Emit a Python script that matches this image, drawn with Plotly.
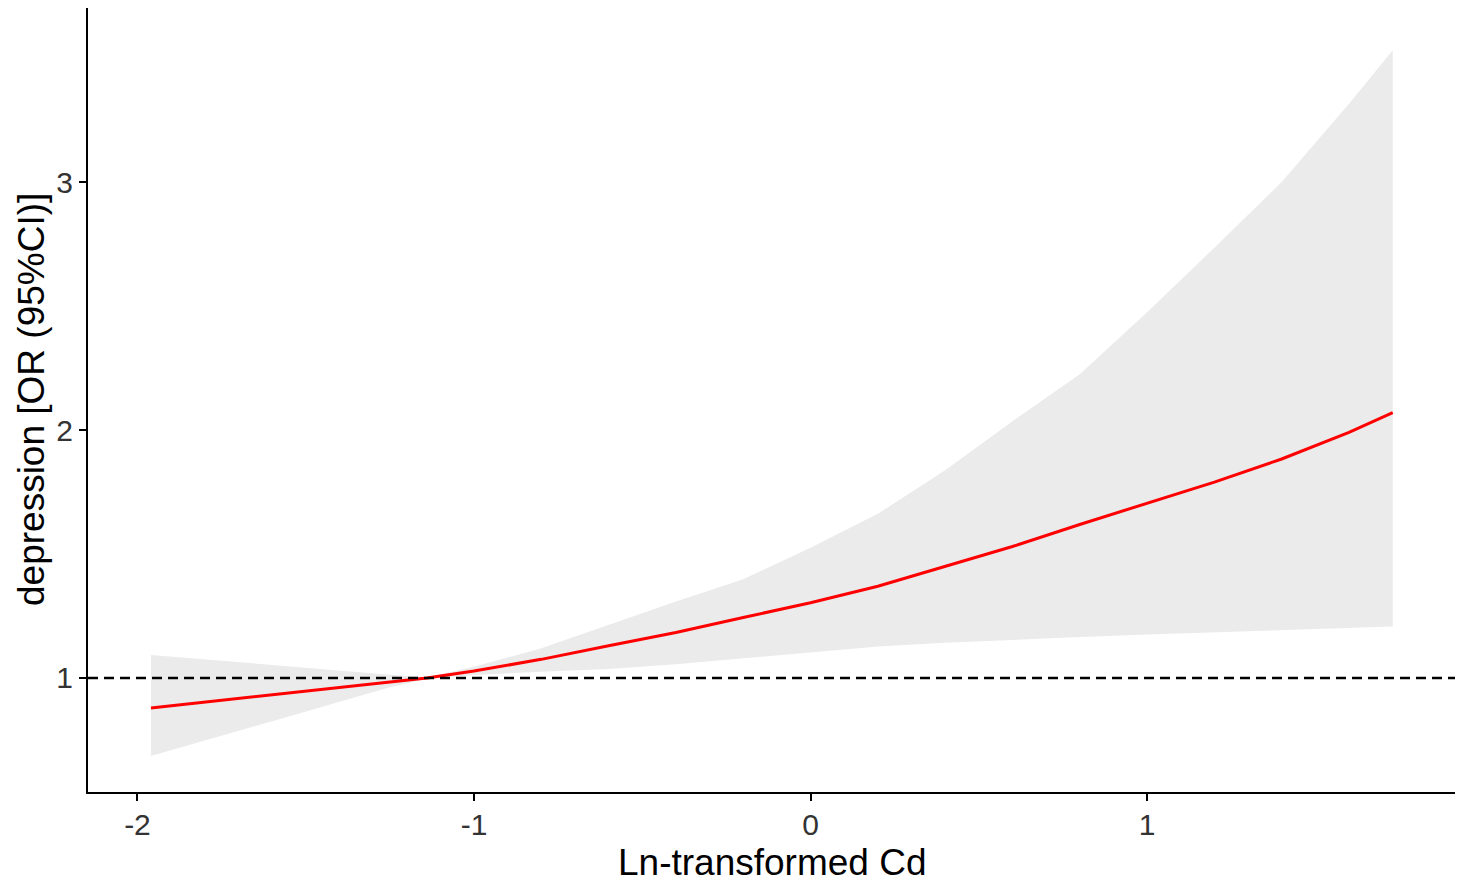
import plotly.graph_objects as go

# Ln-transformed Cd (x) and odds ratio with 95% CI
x_cd = [-1.96, -1.8, -1.6, -1.4, -1.25, -1.14, -1.0, -0.8, -0.6, -0.4, -0.2,
        0.0, 0.2, 0.4, 0.6, 0.8, 1.0, 1.2, 1.4, 1.6, 1.73]
or_est = [0.879, 0.902, 0.931, 0.960, 0.982, 1.000, 1.028, 1.075, 1.130, 1.183, 1.244,
          1.303, 1.370, 1.449, 1.530, 1.619, 1.705, 1.790, 1.883, 1.990, 2.070]
or_upper = [1.093, 1.075, 1.052, 1.029, 1.013, 1.003, 1.045, 1.120, 1.215, 1.308, 1.398,
            1.525, 1.662, 1.838, 2.035, 2.225, 2.475, 2.735, 3.000, 3.316, 3.532]
or_lower = [0.685, 0.748, 0.826, 0.904, 0.962, 0.997, 1.012, 1.025, 1.036, 1.055, 1.080,
            1.105, 1.127, 1.142, 1.155, 1.165, 1.175, 1.183, 1.192, 1.200, 1.207]

x_ticks = [-2, -1, 0, 1]
y_ticks = [1, 2, 3]
ref_or = 1

x_title = "Ln-transformed Cd"
y_title = "depression [OR (95%CI)]"

fig = go.Figure()
fig.add_trace(go.Scatter(x=x_cd, y=or_lower, mode="lines", line=dict(width=0),
                         hoverinfo="skip", showlegend=False))
fig.add_trace(go.Scatter(x=x_cd, y=or_upper, mode="lines", line=dict(width=0),
                         fill="tonexty", fillcolor="#EBEBEB",
                         hoverinfo="skip", showlegend=False))
fig.add_hline(y=ref_or, line=dict(color="black", width=2.5, dash="10px,6px"))
fig.add_trace(go.Scatter(x=x_cd, y=or_est, mode="lines",
                         line=dict(color="#FF0000", width=3), showlegend=False))

# the page body adds an 8px margin, so the figure is sized/offset to compensate
fig.update_layout(
    width=1458, height=878,
    margin=dict(l=80, r=11, t=0, b=94, autoexpand=False),
    paper_bgcolor="white", plot_bgcolor="white",
    font=dict(family="Liberation Sans, Arial, sans-serif", color="black"),
    showlegend=False,
)
fig.update_xaxes(
    range=[-2.147, 1.915], tickvals=x_ticks, ticktext=[str(v) for v in x_ticks],
    showgrid=False, zeroline=False, showline=True, linecolor="black", linewidth=2,
    ticks="outside", ticklen=7, tickwidth=2, tickcolor="black",
    tickfont=dict(size=30, color="#333333"), ticklabelstandoff=-2,
    automargin=False,
)
fig.update_yaxes(
    range=[0.54, 3.702], tickvals=y_ticks, ticktext=[str(v) for v in y_ticks],
    showgrid=False, zeroline=False, showline=True, linecolor="black", linewidth=2,
    ticks="outside", ticklen=7, tickwidth=2, tickcolor="black",
    tickfont=dict(size=30, color="#333333"),
    automargin=False,
)
fig.add_annotation(text=x_title, xref="paper", yref="paper", x=0.5, y=0,
                   xanchor="center", yanchor="middle", yshift=-70, showarrow=False,
                   font=dict(size=37, color="black"))
fig.add_annotation(text=y_title, xref="paper", yref="paper", x=0, y=0.5,
                   xanchor="center", yanchor="middle", xshift=-57, textangle=-90,
                   showarrow=False, font=dict(size=37, color="black"))

fig.write_html("out.html")
